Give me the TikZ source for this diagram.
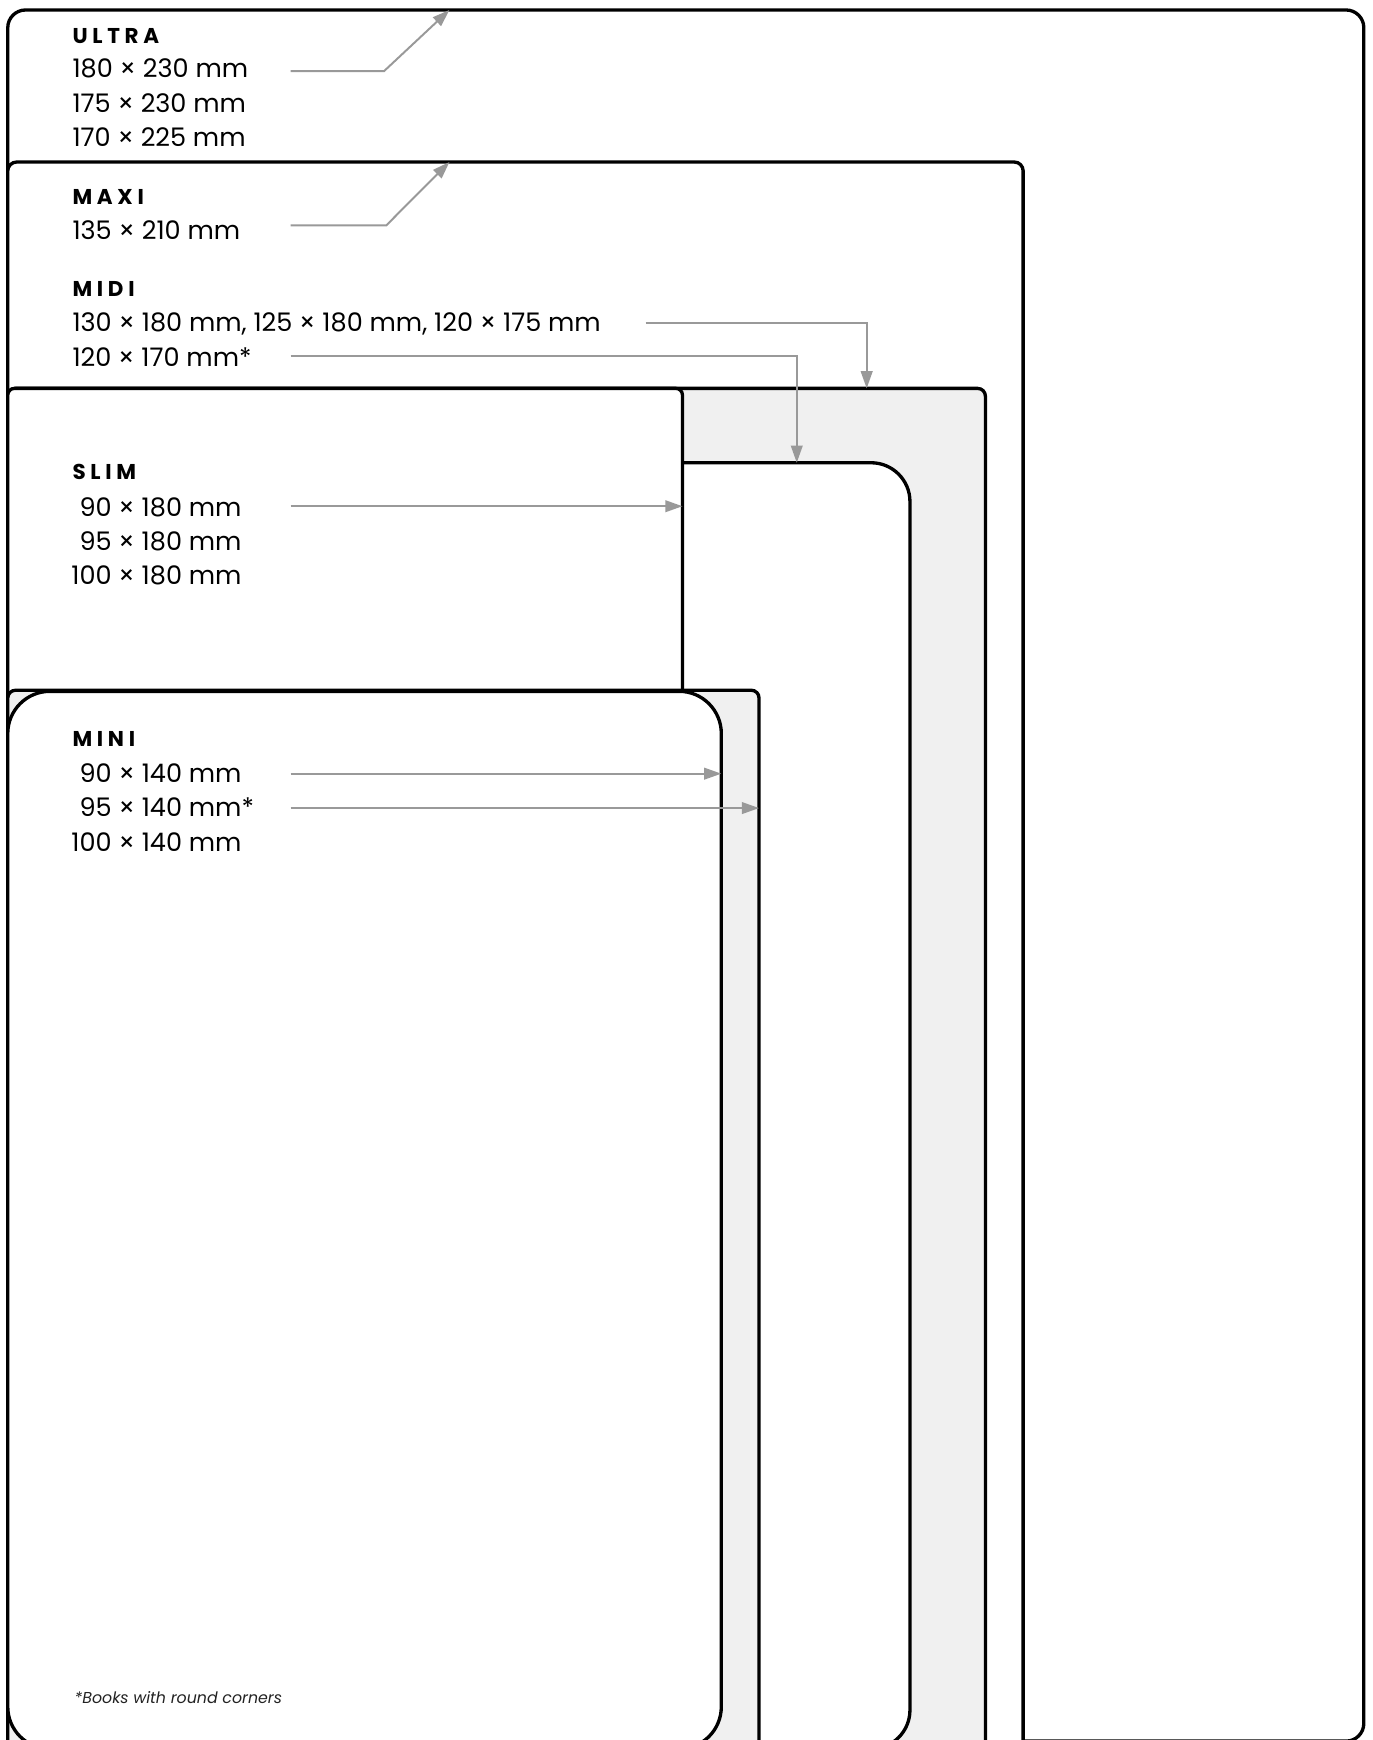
\documentclass[tikz,border=0pt]{standalone}
\usepackage{fontspec}
\setmainfont{Poppins}
\newfontfamily\headfont[LetterSpace=22]{Poppins}
\usetikzlibrary{arrows.meta}
\definecolor{bkLine}{HTML}{000000}
\definecolor{bkShade}{HTML}{F0F0F0}
\definecolor{bkArrow}{HTML}{999999}
\definecolor{bkNote}{HTML}{222222}

\begin{document}
\begin{tikzpicture}[x=0.2mm, y=-0.2mm,
  font=\fontsize{13.1}{16}\selectfont,
  book/.style={draw=bkLine, line width=1.7pt, fill=white},
  shaded/.style={book, fill=bkShade},
  head/.style={anchor=base west, inner sep=0pt, font=\headfont\bfseries\fontsize{11}{13}\selectfont},
  dim/.style={anchor=base west, inner sep=0pt},
  dimr/.style={anchor=base east, inner sep=0pt},
  note/.style={anchor=base west, inner sep=0pt, text=bkNote, font=\itshape\fontsize{8.1}{10}\selectfont},
  ptr/.style={draw=bkArrow, line width=1pt, -{Triangle[length=3.1mm, width=2.1mm]}}]
  \useasboundingbox (0,0) rectangle (1237,1568);
  \clip (0,0) rectangle (1237,1568);
  % outlines, largest first
  \draw[book, rounded corners=3.2mm] (7,9) rectangle (1229,1569);
  \draw[book, rounded corners=1.6mm] (7,146) rectangle (922,1640);
  \draw[shaded, rounded corners=1.4mm] (7,350) rectangle (888,1640);
  \draw[book, rounded corners=7mm] (7,417) rectangle (820,1576);
  \draw[book, rounded corners=1.2mm] (7,350) rectangle (615,700);
  \draw[shaded, rounded corners=1.4mm] (7,622) rectangle (684,1640);
  \draw[book, rounded corners=7.6mm] (7,623) rectangle (650,1576);
  % arrow ends
  \coordinate (col) at (262,0);
  \coordinate (ultraTip) at (405,9);
  \coordinate (maxiTip) at (405,146);
  \coordinate (midiTip) at (781,350);
  \coordinate (midiRTip) at (718,417);
  \coordinate (slimR) at (615,0);
  \coordinate (miniRR) at (650,0);
  \coordinate (miniR) at (684,0);
  % labels
  \node[head] (ultra) at (65,39) {ULTRA};
  \node[dim] (u1) at (65,70) {180 × 230 mm};
  \node[dim] (u2) at (65,101) {175 × 230 mm};
  \node[dim] (u3) at (65,132) {170 × 225 mm};
  \node[head] (maxi) at (65,184) {MAXI};
  \node[dim] (x1) at (65,216) {135 × 210 mm};
  \node[head] (midi) at (65,267) {MIDI};
  \node[dim] (m1) at (65,299) {130 × 180 mm, 125 × 180 mm, 120 × 175 mm};
  \node[dim] (m2) at (65,330) {120 × 170 mm*};
  \node[head] (slim) at (65,432) {SLIM};
  \node[dimr] (s1) at (218,465) {90 × 180 mm};
  \node[dimr] (s2) at (218,496) {95 × 180 mm};
  \node[dimr] (s3) at (218,527) {100 × 180 mm};
  \node[head] (mini) at (65,673) {MINI};
  \node[dimr] (n1) at (218,705) {90 × 140 mm};
  \node[dimr] (n2) at (218,736) {95 × 140 mm\rlap{*}};
  \node[dimr] (n3) at (218,767) {100 × 140 mm};
  \node[note] (foot) at (67,1535) {*Books with round corners};
  % pointers
  \draw[ptr] ([yshift=0.2mm]col |- u1.mid) -- ++(84,0) -- (ultraTip);
  \draw[ptr] ([yshift=1.6mm]col |- x1.mid) -- ++(86,0) -- (maxiTip);
  \draw[ptr] ([xshift=8mm, yshift=0.6mm]m1.mid east) -| (midiTip);
  \draw[ptr] ([yshift=0.8mm]col |- m2.mid) -| (midiRTip);
  \draw[ptr] ([yshift=0.8mm]col |- s1.mid) coordinate (s1t) -- (slimR |- s1t);
  \draw[ptr] ([yshift=0.6mm]col |- n1.mid) coordinate (n1t) -- (miniRR |- n1t);
  \draw[ptr] ([yshift=0.6mm]col |- n2.mid) coordinate (n2t) -- (miniR |- n2t);
\end{tikzpicture}
\end{document}
